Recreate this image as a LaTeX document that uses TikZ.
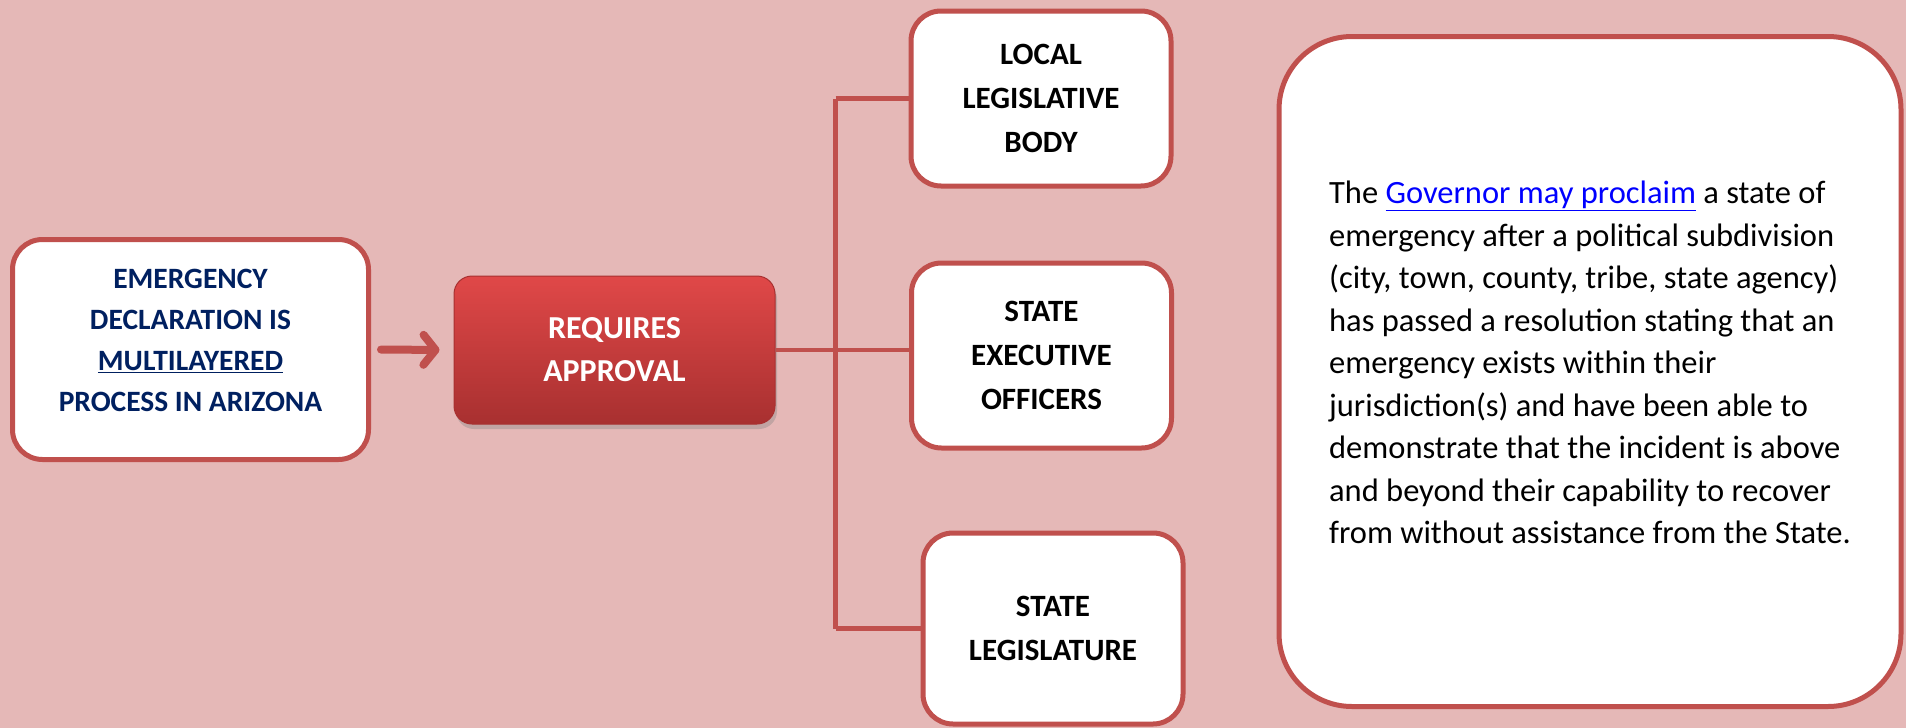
\documentclass[tikz,border=0pt]{standalone}
\usepackage{fontspec}
\setmainfont{Carlito}
\usetikzlibrary{arrows.meta,shadows}

\definecolor{bgpink}{HTML}{E5B8B7}
\definecolor{edgered}{HTML}{C0504D}
\definecolor{navy}{HTML}{002060}
\definecolor{redtop}{HTML}{E04848}
\definecolor{redbot}{HTML}{A83030}
\definecolor{linkblue}{HTML}{0000FF}

\tikzset{
  whitebox/.style={draw=edgered, line width=5pt, fill=white, rounded corners=30pt, align=center},
  officebox/.style={whitebox, minimum width=260pt, font=\bfseries\fontsize{31}{44}\selectfont},
  link/.style={draw=edgered, line width=4.5pt},
  arrowlink/.style={draw=edgered, line width=8pt, line cap=round,
                    -{Straight Barb[length=12pt,width=30pt,round]}},
}

\begin{document}
\begin{tikzpicture}[x=1pt,y=-1pt]
%\draw [help lines,black!20!white] (0,0) grid[step=100] (1906,728);
\useasboundingbox (0,0) rectangle (1906,728);
\fill[bgpink] (0,0) rectangle (1906,728);

% left box and the approval box
\node[whitebox, minimum width=356pt, minimum height=220pt] (start) at (190.5,349.5) {};
\node[text=navy, align=center, font=\bfseries\fontsize{29.5}{41}\selectfont]
      (starttext) at ([yshift=9pt]start.center)
      {EMERGENCY\\DECLARATION IS\\\underline{MULTILAYERED}\\PROCESS IN ARIZONA};
\node[draw=redbot, line width=1pt, top color=redtop, bottom color=redbot, rounded corners=18pt,
      minimum width=321pt, minimum height=148pt, text=white, align=center,
      drop shadow={shadow xshift=2pt, shadow yshift=-5pt, opacity=0.35},
      font=\bfseries\fontsize{32}{43}\selectfont] (approval) at (614.5,350)
      {REQUIRES\\APPROVAL};

\draw[arrowlink, shorten <=10pt, shorten >=14pt] (start.east) -- (approval.west);

% the three bodies
\node[officebox, minimum height=175pt] (local) at (1041,98.5) {LOCAL\\LEGISLATIVE\\BODY};
\node[officebox, minimum height=185pt] (exec) at (1041.5,355.5) {STATE\\EXECUTIVE\\OFFICERS};
\node[officebox, minimum height=191pt] (legis) at (1053,628.5) {STATE\\LEGISLATURE};

\path (approval.east) -- ++(60,0) coordinate (spine);
\draw[link] (approval.east) -- (exec.west |- approval.east);
\draw[link] (spine |- local.west) -- (spine |- legis.west);
\foreach \n in {local,legis}
       \draw[link] (spine |- \n.west) -- (\n.west);

% note on the right
\node[whitebox, rounded corners=73pt, minimum width=622pt, minimum height=670pt] (note) at (1590,371.5) {};
\node[align=left, font=\fontsize{32.5}{42.5}\selectfont] (notetext) at ([yshift=9pt]note.center)
      {The \textcolor{linkblue}{\underline{Governor may proclaim}} a state of\\
       emergency after a political subdivision\\
       (city, town, county, tribe, state agency)\\
       has passed a resolution stating that an\\
       emergency exists within their\\
       jurisdiction(s) and have been able to\\
       demonstrate that the incident is above\\
       and beyond their capability to recover\\
       from without assistance from the State.};

\end{tikzpicture}
\end{document}
